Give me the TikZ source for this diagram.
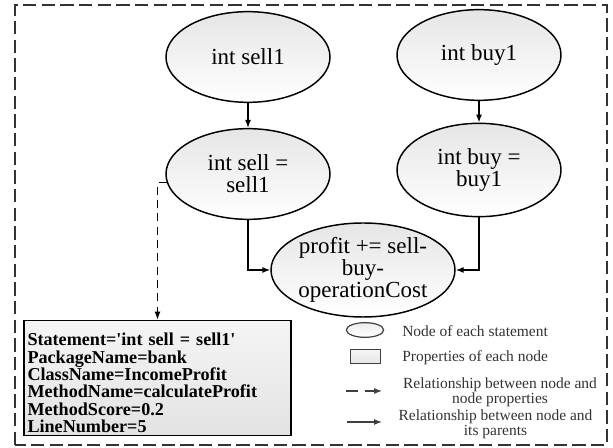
\documentclass[tikz,border=0pt]{standalone}
\usepackage{fontspec}
\setmainfont{Liberation Serif}
\usetikzlibrary{arrows.meta, shapes.geometric, positioning, shadings}

\begin{document}
\begin{tikzpicture}[x=0.75pt,y=0.75pt,
        >={Latex[length=6pt,width=4.5pt]},
        stmt/.style={ellipse,draw,line width=1.1pt,top color=gray!20,bottom color=white,minimum width=123pt,minimum height=68pt,inner sep=0pt,align=center,font=\fontsize{17.25}{16.5}\selectfont},
        attrbox/.style={rectangle,draw,line width=1.3pt,top color=gray!8,bottom color=gray!22,minimum width=200pt,minimum height=85.5pt,text width=195pt,align=left,inner sep=2pt,font=\fontsize{13.6}{13}\selectfont\bfseries},
        legtext/.style={font=\fontsize{11.6}{11}\selectfont,text=black!80,align=center,inner sep=0pt}]

        \useasboundingbox (0,0) rectangle (613,448);

        % Khung ngoai
        \draw[line width=1.2pt,dash pattern=on 10pt off 4pt,black!80] (15,3) rectangle (607,443);

        % Cac nut cau lenh
        \node[stmt] (sellone) at (248,391) {int sell1};
        \node[stmt] (buyone) at (479,393) {int buy1};
        \node[stmt] (sell) at (248,274) {int sell =\\ sell1};
        \node[stmt,minimum height=70pt] (buy) at (479,278) {int buy =\\ buy1};
        \node[stmt,minimum width=138pt,minimum height=70.5pt] (profit) at (363,178) {profit += sell-\\ buy-\\ operationCost};

        % Thuoc tinh cua nut
        \node[attrbox] (attr) at (157.5,70) {\rule{0pt}{17pt}Statement=\textquotesingle int sell = sell1\textquotesingle\\ PackageName=bank\\ ClassName=IncomeProfit\\ MethodName=calculateProfit\\ MethodScore=0.2\\ LineNumber=5};

        % Quan he cha - con
        \draw[->,line width=1pt] (sellone) -- (sell);
        \draw[->,line width=1pt] (buyone) -- (buy);
        \draw[->,line width=1pt] (sell.south) |- (profit.west);
        \draw[->,line width=1pt] (buy.south) |- (profit.east);

        % Quan he nut - thuoc tinh
        \draw[->,line width=1pt,dash pattern=on 6pt off 4pt] (sell.186) -| (attr.north);

        % Chu thich
        \node[ellipse,draw,line width=0.9pt,black!75,top color=gray!15,bottom color=white,minimum width=28pt,minimum height=11pt] (legstmt) at (365,118) {};
        \node[rectangle,draw,line width=0.9pt,black!75,top color=gray!8,bottom color=gray!20,minimum width=22pt,minimum height=10pt] (legattr) at (365.5,91.5) {};
        \node[legtext,anchor=west] (legstmttext) at (402,117) {Node of each statement};
        \node[legtext,anchor=west] (legattrtext) at (402,90) {Properties of each node};

        \coordinate (dashstart) at (346,57);
        \coordinate (dashend) at (382,57);
        \draw[->,black!75,line width=0.8pt,dash pattern=on 9pt off 5pt] (dashstart) -- (dashend);
        \node[legtext] (legdash) at (500,56) {Relationship between node and\\ node properties};

        \coordinate (solidstart) at (347,26);
        \coordinate (solidend) at (382,26);
        \draw[->,black!75,line width=0.8pt] (solidstart) -- (solidend);
        \node[legtext] (legsolid) at (495.5,24) {Relationship between node and\\ its parents};

\end{tikzpicture}
\end{document}
